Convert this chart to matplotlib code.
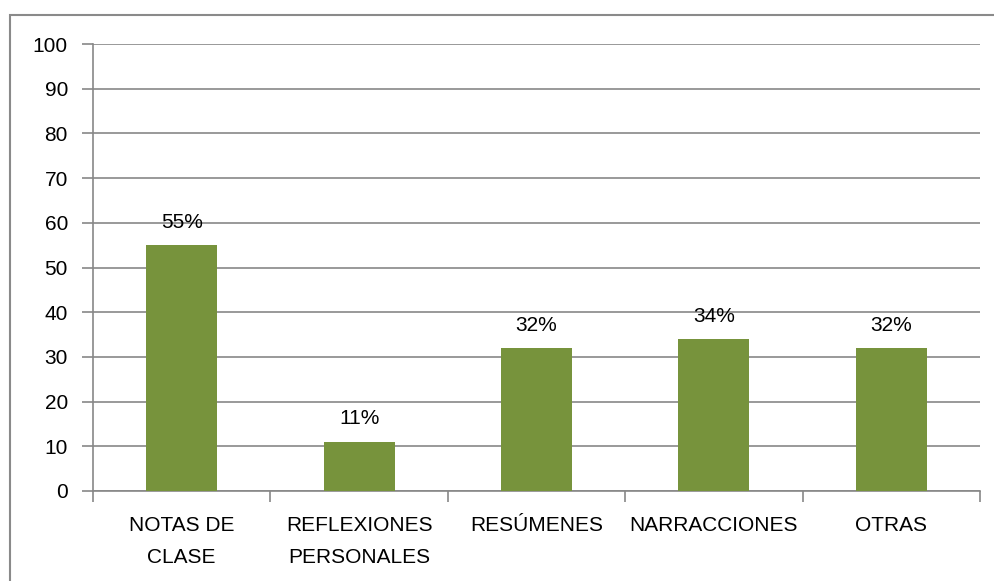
import matplotlib
matplotlib.use('Agg')
import matplotlib.pyplot as plt
from matplotlib.patches import Rectangle

categories = ['NOTAS DE\nCLASE', 'REFLEXIONES\nPERSONALES', 'RESÚMENES', 'NARRACCIONES', 'OTRAS']
values = [55, 11, 32, 34, 32]
labels = ['55%', '11%', '32%', '34%', '32%']
yticks = [0, 10, 20, 30, 40, 50, 60, 70, 80, 90, 100]

plt.rcParams['font.family'] = ['Liberation Sans', 'DejaVu Sans']

fig = plt.figure(figsize=(9.95, 5.81), dpi=100, facecolor='white')
ax = fig.add_axes([93 / 995, 1 - 491 / 581, (980 - 93) / 995, (491 - 44) / 581])

grid_color = '#878787'
x = list(range(len(categories)))
ax.bar(x, values, width=0.4, color='#77933C', zorder=3)

for xi, v, lab in zip(x, values, labels):
    ax.text(xi, v + 3, lab, ha='center', va='bottom', fontsize=15, color='black')

ax.set_xlim(-0.5, len(categories) - 0.5)
ax.set_ylim(0, 100)
ax.set_yticks(yticks)
ax.set_yticklabels([str(t) for t in yticks], fontsize=15)
ax.yaxis.grid(True, color=grid_color, linewidth=1.2, zorder=0)
ax.tick_params(axis='y', length=8, color=grid_color, width=1.2, pad=10)

ax.set_xticks([i - 0.5 for i in range(len(categories) + 1)], minor=False)
ax.set_xticklabels([''] * (len(categories) + 1))
ax.set_xticks(x, minor=True)
ax.set_xticklabels(categories, minor=True, fontsize=15, linespacing=1.85)
ax.tick_params(axis='x', which='minor', length=0, pad=18)
ax.tick_params(axis='x', which='major', length=8, color=grid_color, width=1.2)

for side in ['top', 'right']:
    ax.spines[side].set_visible(False)
for side in ['left', 'bottom']:
    ax.spines[side].set_color(grid_color)
    ax.spines[side].set_linewidth(1.2)

# рамка вокруг всей диаграммы
fig.patches.append(Rectangle((10 / 995, -0.1), 1.1, 1 - 15 / 581 + 0.1,
                             transform=fig.transFigure, fill=False,
                             edgecolor='#8a8a8a', linewidth=1.5))

plt.savefig('out.png', dpi=100)
